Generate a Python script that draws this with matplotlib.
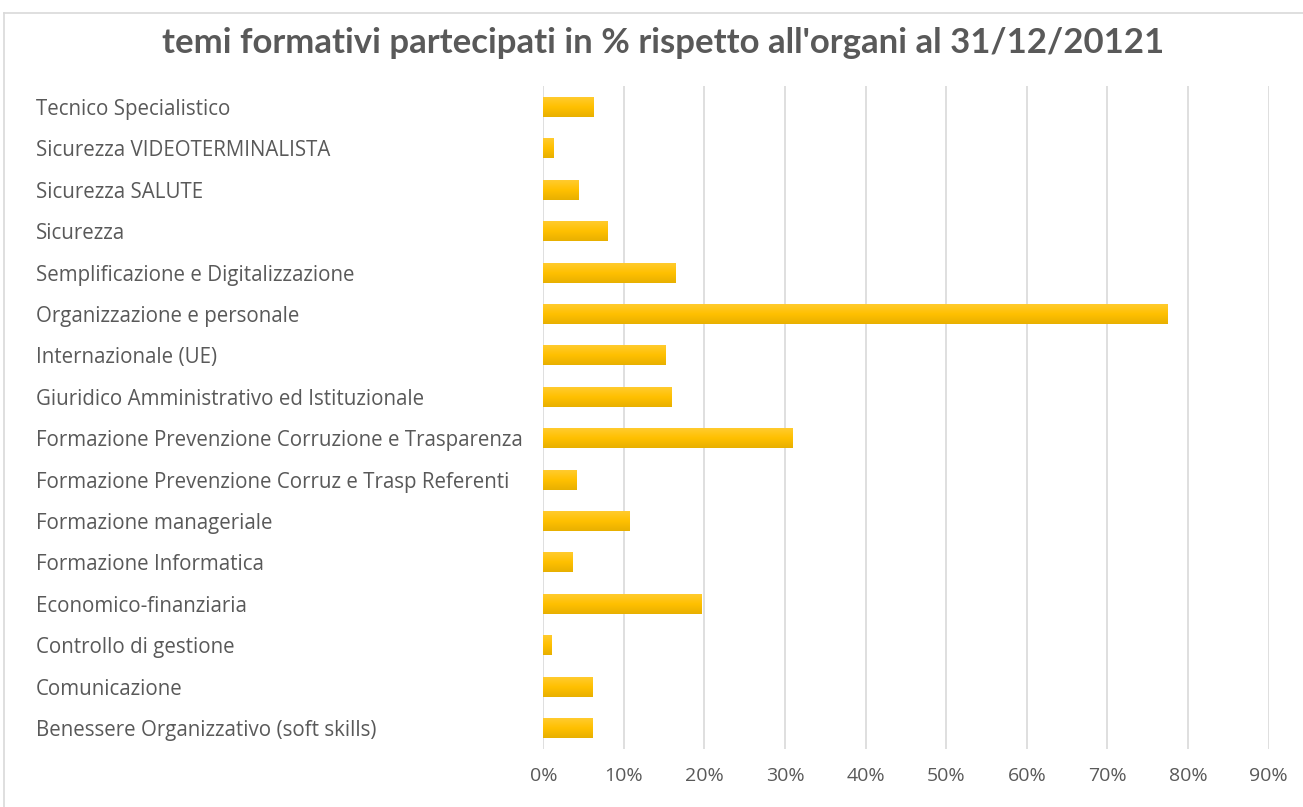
import numpy as np
import matplotlib.pyplot as plt
from matplotlib.colors import LinearSegmentedColormap
from matplotlib.ticker import FuncFormatter

temi = [
    "Tecnico Specialistico",
    "Sicurezza VIDEOTERMINALISTA",
    "Sicurezza SALUTE",
    "Sicurezza",
    "Semplificazione e Digitalizzazione",
    "Organizzazione e personale",
    "Internazionale (UE)",
    "Giuridico Amministrativo ed Istituzionale",
    "Formazione Prevenzione Corruzione e Trasparenza",
    "Formazione Prevenzione Corruz e Trasp Referenti",
    "Formazione manageriale",
    "Formazione Informatica",
    "Economico-finanziaria",
    "Controllo di gestione",
    "Comunicazione",
    "Benessere Organizzativo (soft skills)",
]
percentuali = [0.063, 0.013, 0.044, 0.080, 0.164, 0.775, 0.152, 0.160,
               0.310, 0.041, 0.107, 0.036, 0.197, 0.010, 0.062, 0.061]
x_ticks = [0.0, 0.1, 0.2, 0.3, 0.4, 0.5, 0.6, 0.7, 0.8, 0.9]

testo = "#595959"
plt.rcParams['font.family'] = ['Open Sans', 'DejaVu Sans']

W, H = 1303, 807
fig = plt.figure(figsize=(W / 100, H / 100), dpi=100)
ax = fig.add_axes([543.3 / W, 58.3 / H, 725.2 / W, 662.4 / H])

y = np.arange(len(temi))
bars = ax.barh(y, percentuali, height=0.48, color="#FFC000", zorder=2)

# gradiente verticale dentro ogni barra: chiaro in alto, scuro in basso
sfumatura = LinearSegmentedColormap.from_list("oro", ["#FFCB2E", "#FFC000", "#E8B000"])
grad = np.linspace(0, 1, 64).reshape(-1, 1)
for b in bars:
    x0, y0 = b.get_x(), b.get_y()
    im = ax.imshow(grad, extent=[x0, x0 + b.get_width(), y0, y0 + b.get_height()],
                   origin="lower", aspect="auto", cmap=sfumatura, zorder=3)
    im.set_clip_path(b)

ax.set_xlim(0, 0.9)
ax.set_ylim(len(temi) - 0.5, -0.5)
ax.set_xticks(x_ticks)
ax.xaxis.set_major_formatter(FuncFormatter(lambda v, p: f"{v * 100:.0f}%"))
ax.grid(axis="x", color="#D9D9D9", linewidth=1.2, zorder=0)
for s in ax.spines.values():
    s.set_visible(False)

ax.set_yticks(y, temi)
for lab in ax.get_yticklabels():
    lab.set_ha("left")
ax.tick_params(axis="y", length=0, pad=(543.3 - 36) * 0.72, labelsize=14.8, labelcolor=testo)
ax.tick_params(axis="x", length=0, pad=13, labelsize=14, labelcolor=testo)

fig.text(663 / W, 1 - 43 / H, "temi formativi partecipati in % rispetto all'organi al 31/12/20121",
         ha="center", va="center", fontsize=25, fontweight="bold", color=testo,
         family=['Lato', 'DejaVu Sans'])

# cornice dell'area grafico
fig.add_artist(plt.Line2D([4 / W, 1], [1 - 13 / H, 1 - 13 / H], color="#D9D9D9", linewidth=1.2))
fig.add_artist(plt.Line2D([4 / W, 4 / W], [0, 1 - 13 / H], color="#D9D9D9", linewidth=1.2))

fig.savefig("out.png", dpi=100)
